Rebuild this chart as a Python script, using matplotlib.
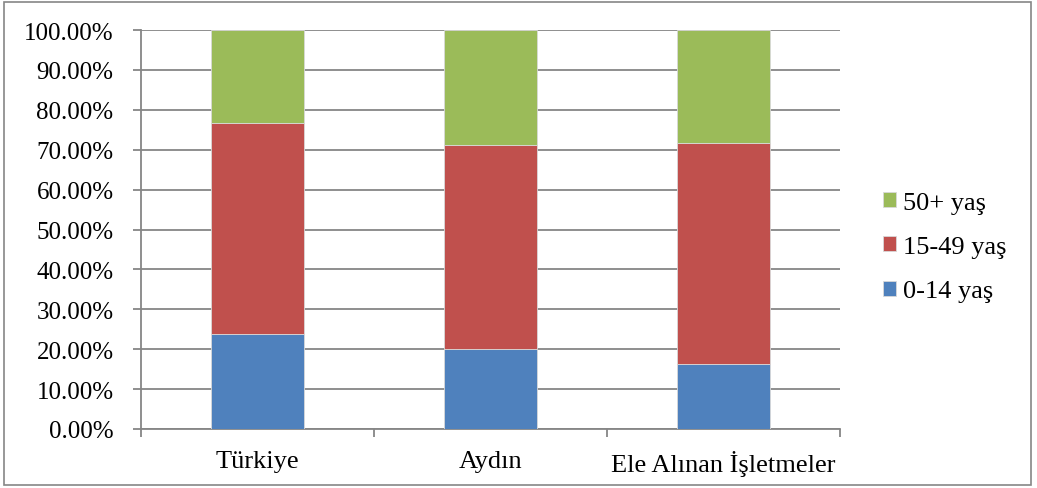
import matplotlib
matplotlib.use('Agg')
import matplotlib.pyplot as plt
from matplotlib.patches import Rectangle
from matplotlib.ticker import FuncFormatter, FixedLocator

# veriler (oranlar, %)
categories = ["Türkiye", "Aydın", "Ele Alınan İşletmeler"]
age_0_14 = [23.7, 20.1, 16.3]
age_15_49 = [53.1, 51.0, 55.4]
age_50_plus = [23.2, 28.9, 28.3]
series_labels = ["0-14 yaş", "15-49 yaş", "50+ yaş"]
colors = ["#4F81BD", "#C0504D", "#9BBB59"]

plt.rcParams['font.family'] = ['Liberation Serif', 'DejaVu Serif']

fig = plt.figure(figsize=(10.37, 4.89), dpi=100)
ax = fig.add_axes([141 / 1037, 1 - 430 / 489, 699 / 1037, 399 / 489])

# grafik çerçevesi
fig.patches.append(Rectangle((4 / 1037, 3 / 489), 1027 / 1037, 483 / 489,
                             transform=fig.transFigure, fill=False,
                             edgecolor='#868686', linewidth=1.2))

x = list(range(len(categories)))
bottom = [0.0] * len(categories)
handles = []
for vals, lab, col in zip([age_0_14, age_15_49, age_50_plus], series_labels, colors):
    b = ax.bar(x, vals, width=0.4, bottom=bottom, color=col, label=lab,
               edgecolor='#d9d9d9', linewidth=0.6, zorder=3)
    handles.append(b)
    bottom = [bb + v for bb, v in zip(bottom, vals)]

ax.set_xlim(-0.5, len(categories) - 0.5)
ax.set_ylim(0, 100)
ax.set_yticks(range(0, 101, 10))
ax.yaxis.set_major_formatter(FuncFormatter(lambda v, p: f"{v:.2f}%"))
ax.yaxis.grid(True, color='#868686', linewidth=1.3, zorder=0)
ax.set_axisbelow(True)

ax.set_xticks(x)
ax.set_xticklabels(categories)
ax.xaxis.set_minor_locator(FixedLocator([i - 0.5 for i in range(len(categories) + 1)]))
ax.tick_params(axis='x', which='major', length=0, pad=15, labelsize=19)
ax.tick_params(axis='x', which='minor', length=5.8, width=1.3, color='#868686', direction='out')
ax.tick_params(axis='y', length=5.8, width=1.3, color='#868686', direction='out',
               labelsize=18, pad=14)

for s in ['top', 'right']:
    ax.spines[s].set_visible(False)
for s in ['left', 'bottom']:
    ax.spines[s].set_color('#868686')
    ax.spines[s].set_linewidth(1.3)

leg = fig.legend(handles[::-1], series_labels[::-1], loc='center left',
                 bbox_to_anchor=(883 / 1037, 1 - 248 / 489), frameon=False,
                 fontsize=19, handlelength=0.5, handleheight=0.5,
                 handletextpad=0.25, labelspacing=0.85,
                 borderpad=0, borderaxespad=0)

fig.savefig("out.png", dpi=100)
